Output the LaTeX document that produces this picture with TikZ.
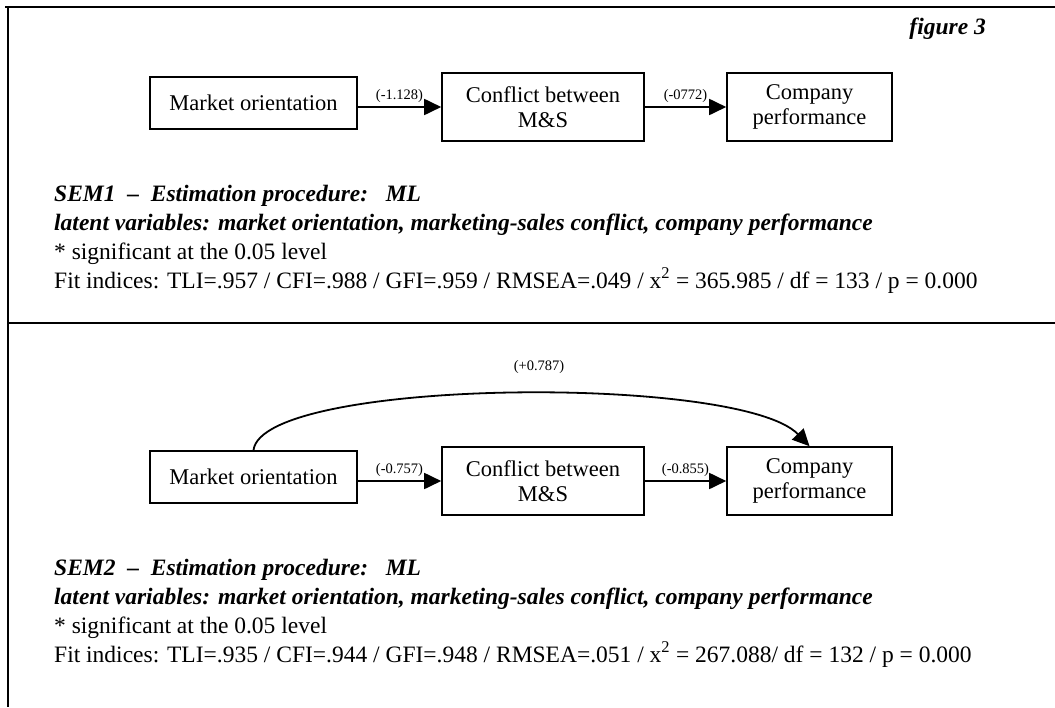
\documentclass[tikz,border=0pt]{standalone}
\usepackage{fontspec}
\setmainfont{Liberation Serif}
\usetikzlibrary{arrows.meta}
\begin{document}
\begin{tikzpicture}[x=1pt,y=-1pt,
  frame/.style={line width=2.6pt},
  box/.style={draw,line width=1.6pt,align=center,inner sep=0pt,font=\fontsize{22.5}{25}\selectfont},
  arr/.style={line width=1.8pt,-{Triangle[length=17pt,width=16pt]}},
  lab/.style={font=\fontsize{14.5}{16}\selectfont,inner sep=1pt},
  txt/.style={anchor=base west,inner sep=0pt,font=\fontsize{23.5}{26}\selectfont},
  bi/.style={txt,font=\fontsize{23.5}{26}\selectfont\bfseries\itshape}]
\useasboundingbox (0,0) rectangle (1055,707);
% frame
\coordinate (tl) at (8,7);
\coordinate (tr) at (1055,7);
\coordinate (bl) at (8,707);
\coordinate (sl) at (8,323);
\coordinate (sr) at (1055,323);
\draw[frame] (5,7) -- (tr);
\draw[frame] (tl) -- (bl);
\draw[frame] (sl) -- (sr);
\node[bi,anchor=base east] (fig) at (986,34) {figure 3};
% top diagram
\node[box,minimum width=207pt,minimum height=52pt] (m1) at (253.5,103) {Market orientation};
\node[box,minimum width=202pt,minimum height=68pt] (c1) at (543,107) {Conflict between\\M\&S};
\node[box,minimum width=165pt,minimum height=68pt] (p1) at (809.5,107) {Company\\performance};
\draw[arr] (m1.east |- c1.west) -- (c1.west) node[lab,midway,above=3pt] (l1) {(-1.128)};
\draw[arr] (c1.east) -- (p1.west) node[lab,midway,above=3pt] (l2) {(-0772)};
\node[bi] (s1a) at (54,201) {SEM1\ \ –\ \ Estimation procedure:\ \ \ ML};
\node[bi] (s1b) at (54,230) {latent variables: market orientation, marketing-sales conflict, company performance};
\node[txt] (s1c) at (54,259) {* significant at the 0.05 level};
\node[txt] (s1d) at (54,288) {Fit indices: TLI=.957 / CFI=.988 / GFI=.959 / RMSEA=.049 / x\textsuperscript{2} = 365.985 / df = 133 / p = 0.000};
% bottom diagram
\node[box,minimum width=207pt,minimum height=52pt] (m2) at (253.5,477) {Market orientation};
\node[box,minimum width=202pt,minimum height=68pt] (c2) at (543,481) {Conflict between\\M\&S};
\node[box,minimum width=165pt,minimum height=68pt] (p2) at (809.5,481) {Company\\performance};
\draw[arr] (m2.east |- c2.west) -- (c2.west) node[lab,midway,above=3pt] (l3) {(-0.757)};
\draw[arr] (c2.east) -- (p2.west) node[lab,midway,above=3pt] (l4) {(-0.855)};
\draw[arr] (m2.north) .. controls (262,378) and (740,374) .. (p2.north);
\node[lab] (l5) at (539,367) {(+0.787)};
\node[bi] (s2a) at (54,575) {SEM2\ \ –\ \ Estimation procedure:\ \ \ ML};
\node[bi] (s2b) at (54,604) {latent variables: market orientation, marketing-sales conflict, company performance};
\node[txt] (s2c) at (54,633) {* significant at the 0.05 level};
\node[txt] (s2d) at (54,662) {Fit indices: TLI=.935 / CFI=.944 / GFI=.948 / RMSEA=.051 / x\textsuperscript{2} = 267.088/ df = 132 / p = 0.000};
\end{tikzpicture}
\end{document}
